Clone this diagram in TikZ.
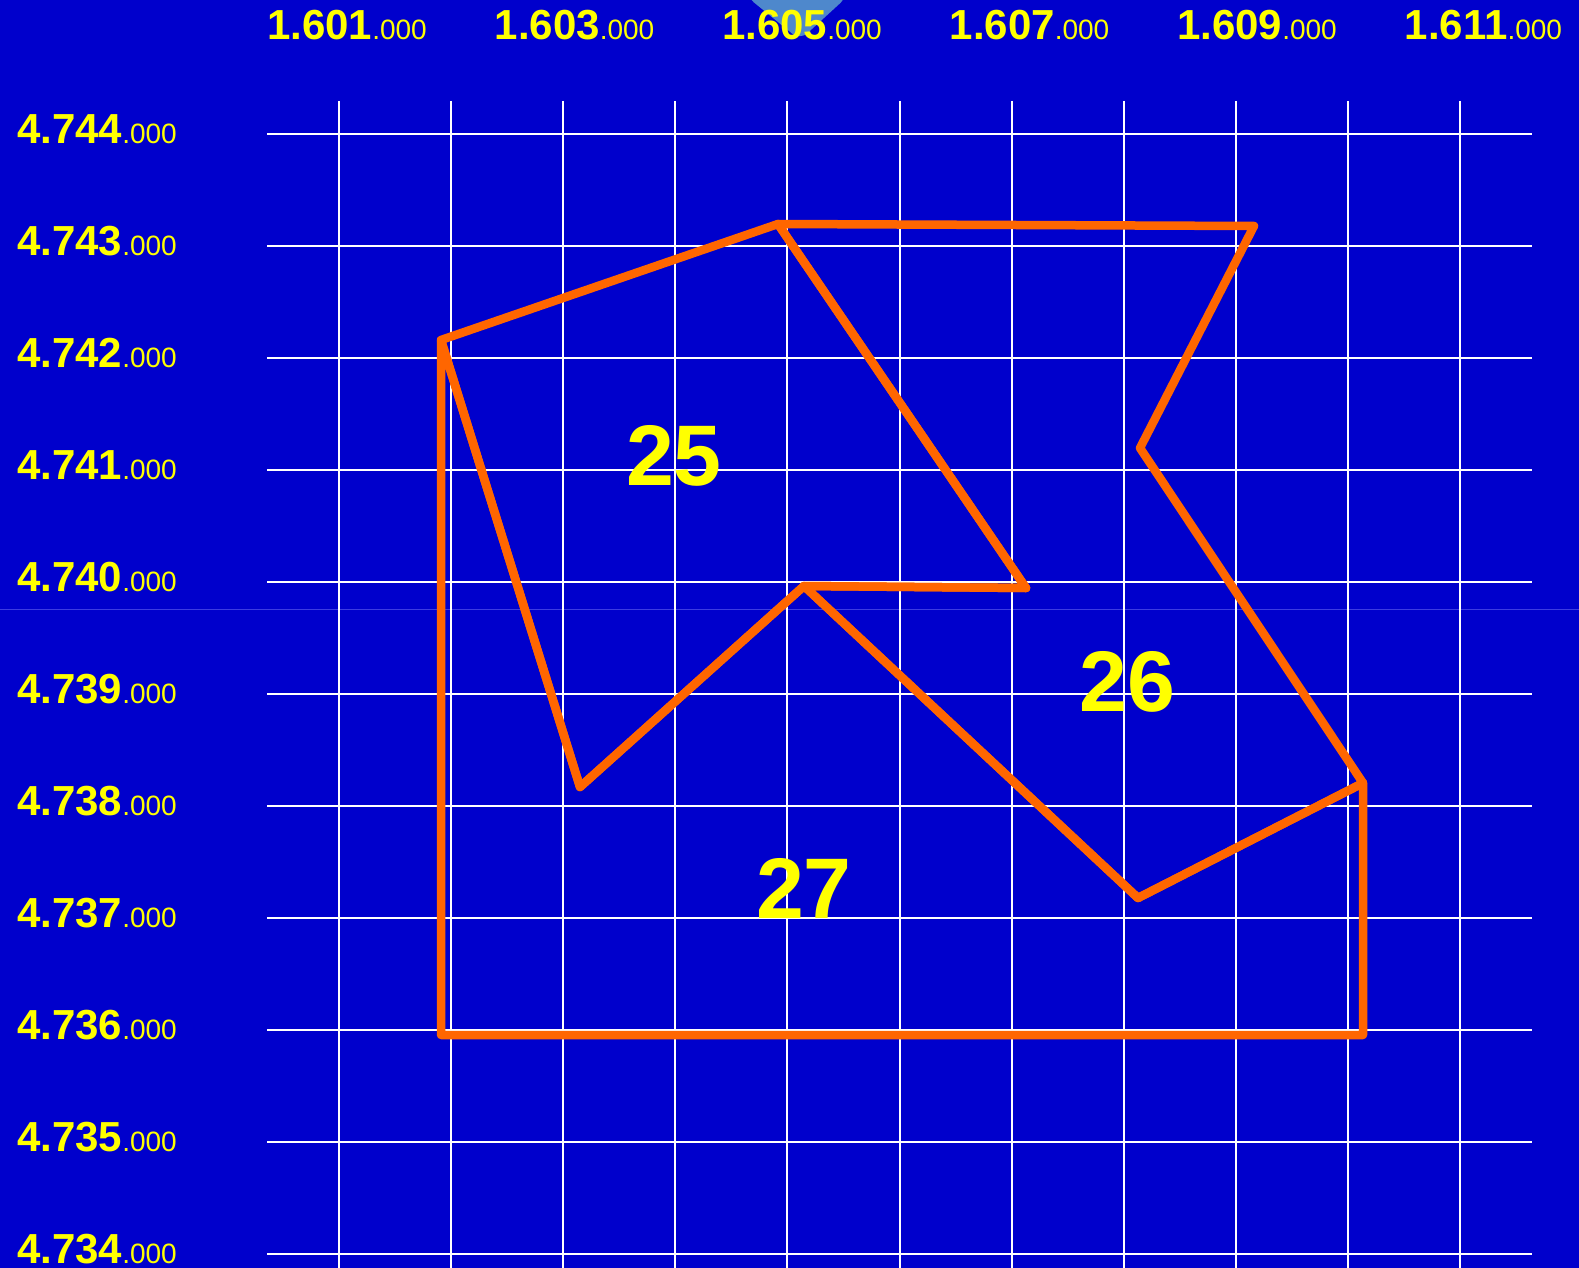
\documentclass[tikz,border=0pt]{standalone}
\usepackage{fontspec}
\setmainfont{Liberation Sans}
\usetikzlibrary{positioning}
\definecolor{mapbg}{RGB}{0,0,204}
\definecolor{parcelcol}{RGB}{255,102,0}
\definecolor{labcol}{RGB}{255,255,0}
\definecolor{blobcol}{RGB}{78,136,204}
\definecolor{seamcol}{RGB}{60,60,225}
\newcommand\axval[1]{#1{\fontsize{28}{28}\selectfont\mdseries .000}}

\begin{document}
\begin{tikzpicture}[x=1pt,y=-1pt,
  gridln/.style={white,line width=2pt},
  parcel/.style={parcelcol,line width=8.5pt,line join=round,line cap=round},
  axlab/.style={labcol,anchor=base west,inner sep=0pt,font=\fontsize{42}{42}\selectfont\bfseries},
  parcelno/.style={labcol,inner sep=0pt,font=\fontsize{86}{86}\selectfont\bfseries}]
  \fill[mapbg] (0,0) rectangle (1579,1268);
  \useasboundingbox (0,0) rectangle (1579,1268);
  % blob at the top and the faint seam
  \fill[blobcol,rounded corners=10pt] (746,-4) -- (800,40) -- (848,-4) -- cycle;
  \draw[seamcol,line width=1pt] (0,609) -- (1579,609);
  % grid
  \foreach \k in {0,...,10}{
    \draw[gridln] (339+112.1*\k,101) -- (339+112.1*\k,1268);
    \draw[gridln] (267,133.7+112*\k) -- (1532,133.7+112*\k);}
  % axis values
  \foreach \i/\v in {0/601,1/603,2/605,3/607,4/609,5/611}
    {\node[axlab] (x\v) at (267+227.5*\i,40) {\axval{1.\v}};}
  \foreach \k/\v in {0/744,1/743,2/742,3/741,4/740,5/739,6/738,7/737,8/736,9/735,10/734}
    {\node[axlab] (y\v) at (17,143.7+112*\k) {\axval{4.\v}};}
  % parcel corners
  \coordinate (a) at (441,340);
  \coordinate (b) at (778,224);
  \coordinate (c) at (1254,226);
  \coordinate (d) at (1140,448);
  \coordinate (e) at (1363,783);
  \coordinate (f) at (1138,898);
  \coordinate (g) at (804,586);
  \coordinate (h) at (1026,588);
  \coordinate (i) at (580,787);
  \coordinate (j) at (441,1035);
  \coordinate (k) at (1363,1035);
  % parcels 25, 26, 27
  \draw[parcel] (a) -- (b) -- (h) -- (g) -- (i) -- cycle;
  \draw[parcel] (b) -- (c) -- (d) -- (e) -- (f) -- (g) -- (h) -- cycle;
  \draw[parcel] (a) -- (i) -- (g) -- (f) -- (e) -- (k) -- (j) -- cycle;
  \node[parcelno] (p25) at (674,456) {25};
  \node[parcelno] (p26) at (1127,682) {26};
  \node[parcelno] (p27) at (804,888) {27};
\end{tikzpicture}
\end{document}
